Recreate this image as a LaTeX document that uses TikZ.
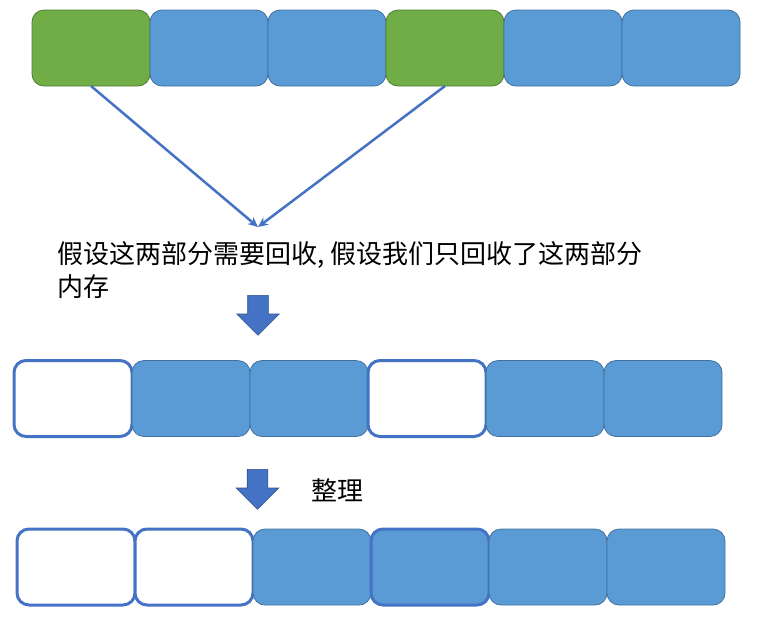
\documentclass[tikz,border=0pt]{standalone}
\usepackage{fontspec}
\usepackage{xcolor}
\usetikzlibrary{positioning,arrows.meta,shapes.arrows}
\newfontfamily\cjk{Noto Sans CJK SC}

\definecolor{memgreen}{HTML}{70AD47}
\definecolor{memblue}{HTML}{5B9BD5}
\definecolor{edgegreen}{HTML}{507E32}
\definecolor{edgeblue}{HTML}{41719C}
\definecolor{linkblue}{HTML}{4472C4}
\definecolor{arrowedge}{HTML}{2F528F}

\tikzset{
    block/.style={rounded corners=12pt, minimum width=118pt, minimum height=76pt, inner sep=0pt, outer sep=0pt},
    usedblock/.style={block, draw=edgeblue, fill=memblue, line width=0.8pt},
    garbageblock/.style={block, draw=edgegreen, fill=memgreen, line width=0.8pt},
    emptyblock/.style={block, draw=linkblue, fill=white, line width=3pt},
    movedblock/.style={block, draw=linkblue, fill=memblue, line width=3pt},
    downarrow/.style={single arrow, draw=arrowedge, fill=linkblue, line width=0.6pt, rotate=-90, anchor=tail,
        minimum height=40pt, inner xsep=0pt, inner ysep=10pt, single arrow head extend=11pt},
    caption/.style={font=\cjk\fontsize{26}{33}\selectfont, inner sep=0pt, align=left}
}

\begin{document}
\begin{tikzpicture}[x=1pt, y=-1pt]
    \useasboundingbox (0,0) rectangle (770,619);

    % Nodes: memory before collection
    \node[garbageblock] (before_1) at (91,48) {};
    \node[usedblock, right=0pt of before_1] (before_2) {};
    \node[usedblock, right=0pt of before_2] (before_3) {};
    \node[garbageblock, right=0pt of before_3] (before_4) {};
    \node[usedblock, right=0pt of before_4] (before_5) {};
    \node[usedblock, right=0pt of before_5] (before_6) {};

    \coordinate (merge_tip) at (258,227);
    \node[caption, anchor=north west] (note_text) at (57,241) {假设这两部分需要回收, 假设我们只回收了这两部分\\内存};
    \node[downarrow] (collect_arrow) at (258,295) {};

    % Nodes: memory after collection
    \node[emptyblock] (freed_1) at (73,398.5) {};
    \node[usedblock, right=0pt of freed_1] (freed_2) {};
    \node[usedblock, right=0pt of freed_2] (freed_3) {};
    \node[emptyblock, right=0pt of freed_3] (freed_4) {};
    \node[usedblock, right=0pt of freed_4] (freed_5) {};
    \node[usedblock, right=0pt of freed_5] (freed_6) {};

    \node[downarrow] (compact_arrow) at (257.5,469) {};
    \node[caption, anchor=west] (compact_text) at (311,490) {整理};

    % Nodes: memory after compaction
    \node[emptyblock] (compact_1) at (76,567) {};
    \node[emptyblock, right=0pt of compact_1] (compact_2) {};
    \node[usedblock, right=0pt of compact_2] (compact_3) {};
    \node[movedblock, right=0pt of compact_3] (compact_4) {};
    \node[usedblock, right=0pt of compact_4] (compact_5) {};
    \node[usedblock, right=0pt of compact_5] (compact_6) {};

    % Arrows
    \draw[->, >={Stealth[length=10pt, width=9pt]}, draw=linkblue, line width=2.5pt] (before_1.south) -- (merge_tip);
    \draw[->, >={Stealth[length=10pt, width=9pt]}, draw=linkblue, line width=2.5pt] (before_4.south) -- (merge_tip);
\end{tikzpicture}
\end{document}
